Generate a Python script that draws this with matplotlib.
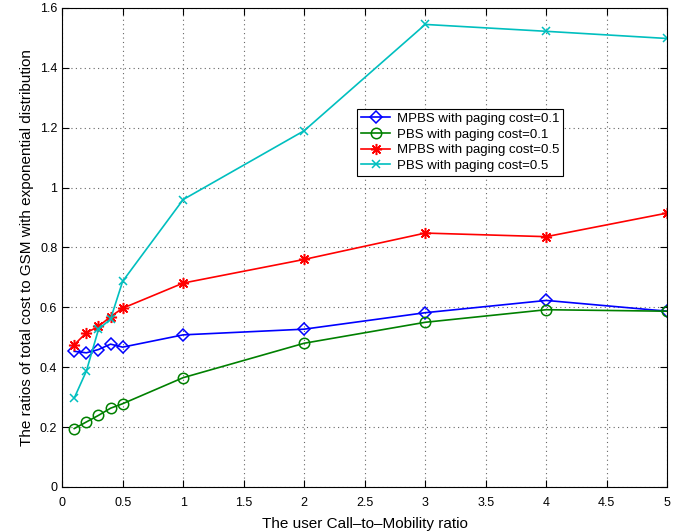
import matplotlib
matplotlib.use("Agg")
import matplotlib.pyplot as plt

plt.rcParams['font.family'] = ['Liberation Sans', 'DejaVu Sans']

x = [0.1, 0.2, 0.3, 0.4, 0.5, 1, 2, 3, 4, 5]
mpbs_01 = [0.453, 0.448, 0.459, 0.477, 0.467, 0.508, 0.527, 0.582, 0.623, 0.587]
pbs_01 = [0.195, 0.217, 0.239, 0.263, 0.278, 0.365, 0.480, 0.550, 0.592, 0.587]
mpbs_05 = [0.475, 0.515, 0.536, 0.569, 0.597, 0.681, 0.760, 0.848, 0.836, 0.915]
pbs_05 = [0.297, 0.387, 0.526, 0.561, 0.687, 0.960, 1.190, 1.545, 1.522, 1.498]
labels = ["MPBS with paging cost=0.1", "PBS with paging cost=0.1",
          "MPBS with paging cost=0.5", "PBS with paging cost=0.5"]
xticks = [0, 0.5, 1, 1.5, 2, 2.5, 3, 3.5, 4, 4.5, 5]
yticks = [0, 0.2, 0.4, 0.6, 0.8, 1.0, 1.2, 1.4, 1.6]

fig = plt.figure(figsize=(6.83, 5.31), dpi=100)
ax = fig.add_axes([0.091, 0.083, 0.886, 0.902])

ax.plot(x, mpbs_01, color='#0000ff', marker='D', mfc='none', ms=6, mew=1.1, lw=1.2, label=labels[0])
ax.plot(x, pbs_01, color='#008000', marker='o', mfc='none', ms=7.5, mew=1.1, lw=1.2, label=labels[1])
ax.plot(x, mpbs_05, color='#ff0000', marker=(8, 2, 0), ms=8, mew=1.1, lw=1.2, label=labels[2])
ax.plot(x, pbs_05, color='#00bfbf', marker='x', ms=6, mew=1.1, lw=1.2, label=labels[3])

ax.set_xlim(0, 5)
ax.set_ylim(0, 1.6)
ax.set_xticks(xticks)
ax.set_xticklabels(['0', '0.5', '1', '1.5', '2', '2.5', '3', '3.5', '4', '4.5', '5'])
ax.set_yticks(yticks)
ax.set_yticklabels(['0', '0.2', '0.4', '0.6', '0.8', '1', '1.2', '1.4', '1.6'])
ax.tick_params(direction='in', length=5, labelsize=9, top=True, right=True)
ax.tick_params(axis='x', pad=7)
ax.grid(True, linestyle=(0, (1, 3)), color='#666666', linewidth=0.8)
for s in ax.spines.values():
    s.set_linewidth(0.8)

ax.set_xlabel('The user Call\u2013to\u2013Mobility ratio', fontsize=11, labelpad=6)
ax.set_ylabel('The ratios of total cost to GSM with exponential distribution', fontsize=11)

leg = ax.legend(loc='upper left', bbox_to_anchor=(0.477, 0.803), fontsize=9.5,
                fancybox=False, framealpha=1, edgecolor='black',
                borderpad=0.3, labelspacing=0.25, handlelength=2.2, handletextpad=0.5)
leg.get_frame().set_linewidth(0.8)

fig.savefig('out.png', dpi=100)
